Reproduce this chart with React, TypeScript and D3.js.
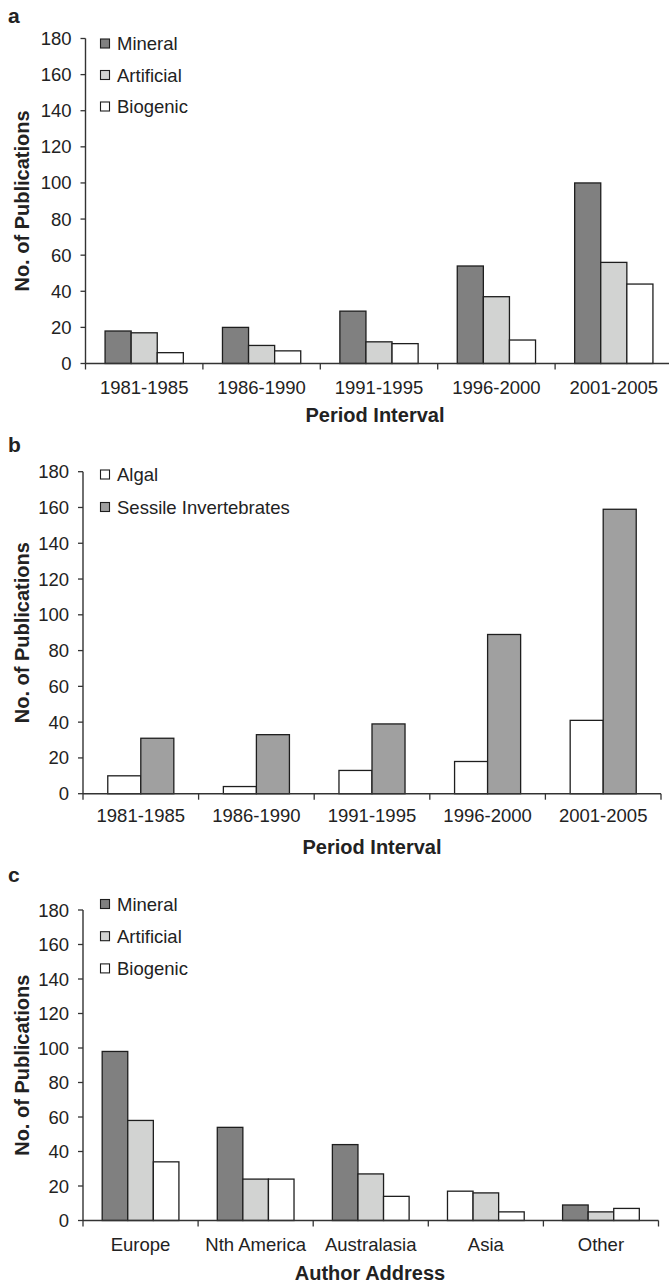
import React from "react";
import * as d3 from "d3";

// Publication counts per time period (panels a and b)
const PERIODS = ["1981-1985", "1986-1990", "1991-1995", "1996-2000", "2001-2005"];
const MINERAL_BY_PERIOD = [18, 20, 29, 54, 100];
const ARTIFICIAL_BY_PERIOD = [17, 10, 12, 37, 56];
const BIOGENIC_BY_PERIOD = [6, 7, 11, 13, 44];

const ALGAL_BY_PERIOD = [10, 4, 13, 18, 41];
const SESSILE_INV_BY_PERIOD = [31, 33, 39, 89, 159];

// Publication counts per author address (panel c)
const REGIONS = ["Europe", "Nth America", "Australasia", "Asia", "Other"];
const MINERAL_BY_REGION = [98, 54, 44, 17, 9];
const ARTIFICIAL_BY_REGION = [58, 24, 27, 16, 5];
const BIOGENIC_BY_REGION = [34, 24, 14, 5, 7];

const Y_TICKS = [0, 20, 40, 60, 80, 100, 120, 140, 160, 180];

const W = 669;
const H = 1284;
const FONT = "'Liberation Sans', Arial, Helvetica, sans-serif";
const INK = "#222";
const BAR_STROKE = "#1e1e1e";

const DARK = "#808080";
const LIGHT = "#d2d3d2";
const WHITE = "#ffffff";
const MID = "#a0a0a0";

type Series = {
  name: string;
  values: number[];
  fill: string;
  fillAt?: Record<number, string>;
};

type PanelSpec = {
  letter: string;
  letterY: number;
  categories: string[];
  series: Series[];
  legendOrder: Series[];
  xTitle: string;
  xTitleX: number;
  x0: number;
  x1: number;
  yTop: number;
  yBottom: number;
  legendY0: number;
  legendStep: number;
  tickLabelDy: number;
  titleDy: number;
};

function Panel({ p }: { p: PanelSpec }) {
  const x = d3
    .scaleBand<string>()
    .domain(p.categories)
    .range([p.x0, p.x1])
    .paddingInner(0)
    .paddingOuter(0);
  const inner = d3
    .scaleBand<string>()
    .domain(p.series.map((s) => s.name))
    .range([0, x.bandwidth()])
    .paddingInner(0)
    .paddingOuter(0.75);
  const y = d3.scaleLinear().domain([0, 180]).range([p.yBottom, p.yTop]);

  const bounds = p.categories.map((c) => x(c) as number).concat([p.x1]);
  const yMid = (p.yTop + p.yBottom) / 2;

  return (
    <g>
      <text x={8} y={p.letterY} fontFamily={FONT} fontWeight="bold" fontSize={21} fill={INK}>
        {p.letter}
      </text>

      {/* bars */}
      {p.series.map((s) =>
        s.values.map((v, i) => {
          const cx = (x(p.categories[i]) as number) + (inner(s.name) as number);
          const fill = s.fillAt && s.fillAt[i] ? s.fillAt[i] : s.fill;
          return (
            <rect
              key={s.name + i}
              x={cx}
              y={y(v)}
              width={inner.bandwidth()}
              height={y(0) - y(v)}
              fill={fill}
              stroke={BAR_STROKE}
              strokeWidth={1.3}
            />
          );
        })
      )}

      {/* y axis */}
      <line x1={p.x0} x2={p.x0} y1={y(180)} y2={y(0)} stroke="#333" strokeWidth={1.4} />
      {Y_TICKS.map((t) => (
        <g key={t}>
          <line x1={p.x0 - 5} x2={p.x0} y1={y(t)} y2={y(t)} stroke="#333" strokeWidth={1.3} />
          <text
            x={p.x0 - 14}
            y={y(t) + 6.5}
            textAnchor="end"
            fontFamily={FONT}
            fontSize={18.5}
            fill={INK}
          >
            {t}
          </text>
        </g>
      ))}

      {/* x axis */}
      <line x1={p.x0} x2={p.x1} y1={y(0)} y2={y(0)} stroke="#333" strokeWidth={1.4} />
      {bounds.map((b, i) => (
        <line key={i} x1={b} x2={b} y1={y(0)} y2={y(0) + 6} stroke="#333" strokeWidth={1.3} />
      ))}
      {p.categories.map((c) => (
        <text
          key={c}
          x={(x(c) as number) + x.bandwidth() / 2}
          y={y(0) + p.tickLabelDy}
          textAnchor="middle"
          fontFamily={FONT}
          fontSize={18.5}
          fill={INK}
        >
          {c}
        </text>
      ))}
      <text
        x={p.xTitleX}
        y={y(0) + p.titleDy}
        textAnchor="middle"
        fontFamily={FONT}
        fontWeight="bold"
        fontSize={20}
        fill={INK}
      >
        {p.xTitle}
      </text>

      {/* y title */}
      <text
        transform={`translate(29,${yMid}) rotate(-90)`}
        textAnchor="middle"
        fontFamily={FONT}
        fontWeight="bold"
        fontSize={20}
        fill={INK}
      >
        No. of Publications
      </text>

      {/* legend */}
      {p.legendOrder.map((s, i) => {
        const cy = p.legendY0 + i * p.legendStep;
        return (
          <g key={s.name}>
            <rect
              x={100.5}
              y={cy - 4.5}
              width={9}
              height={9}
              fill={s.fill}
              stroke={BAR_STROKE}
              strokeWidth={1.1}
            />
            <text x={117} y={cy + 6.5} fontFamily={FONT} fontSize={18.5} fill={INK}>
              {s.name}
            </text>
          </g>
        );
      })}
    </g>
  );
}

export default function App() {
  const periodSubstrata: Series[] = [
    { name: "Mineral", values: MINERAL_BY_PERIOD, fill: DARK },
    { name: "Artificial", values: ARTIFICIAL_BY_PERIOD, fill: LIGHT },
    { name: "Biogenic", values: BIOGENIC_BY_PERIOD, fill: WHITE },
  ];
  const biogenicTypes: Series[] = [
    { name: "Algal", values: ALGAL_BY_PERIOD, fill: WHITE },
    { name: "Sessile Invertebrates", values: SESSILE_INV_BY_PERIOD, fill: MID },
  ];
  const regionSubstrata: Series[] = [
    { name: "Mineral", values: MINERAL_BY_REGION, fill: DARK, fillAt: { 3: WHITE } },
    { name: "Artificial", values: ARTIFICIAL_BY_REGION, fill: LIGHT },
    { name: "Biogenic", values: BIOGENIC_BY_REGION, fill: WHITE },
  ];

  const panels: PanelSpec[] = [
    {
      letter: "a",
      letterY: 22.5,
      categories: PERIODS,
      series: periodSubstrata,
      legendOrder: periodSubstrata,
      xTitle: "Period Interval",
      xTitleX: 375,
      x0: 85.5,
      x1: 85.5 + 5 * 117.4,
      yTop: 38.5,
      yBottom: 363.5,
      legendY0: 43.5,
      legendStep: 31.5,
      tickLabelDy: 30,
      titleDy: 58.5,
    },
    {
      letter: "b",
      letterY: 452,
      categories: PERIODS,
      series: biogenicTypes,
      legendOrder: biogenicTypes,
      xTitle: "Period Interval",
      xTitleX: 372,
      x0: 83,
      x1: 661,
      yTop: 471.7,
      yBottom: 793.7,
      legendY0: 474.5,
      legendStep: 32.5,
      tickLabelDy: 28.5,
      titleDy: 60.5,
    },
    {
      letter: "c",
      letterY: 881.5,
      categories: REGIONS,
      series: regionSubstrata,
      legendOrder: regionSubstrata,
      xTitle: "Author Address",
      xTitleX: 370,
      x0: 83,
      x1: 658.5,
      yTop: 910,
      yBottom: 1220.5,
      legendY0: 904,
      legendStep: 32.2,
      tickLabelDy: 30.5,
      titleDy: 59.5,
    },
  ];

  return (
    <svg
      width={W}
      height={H}
      viewBox={`0 0 ${W} ${H}`}
      style={{ position: "absolute", left: 0, top: 0, display: "block", background: "#fff" }}
    >
      <rect x={0} y={0} width={W} height={H} fill="#fff" />
      {panels.map((p) => (
        <Panel key={p.letter} p={p} />
      ))}
    </svg>
  );
}
